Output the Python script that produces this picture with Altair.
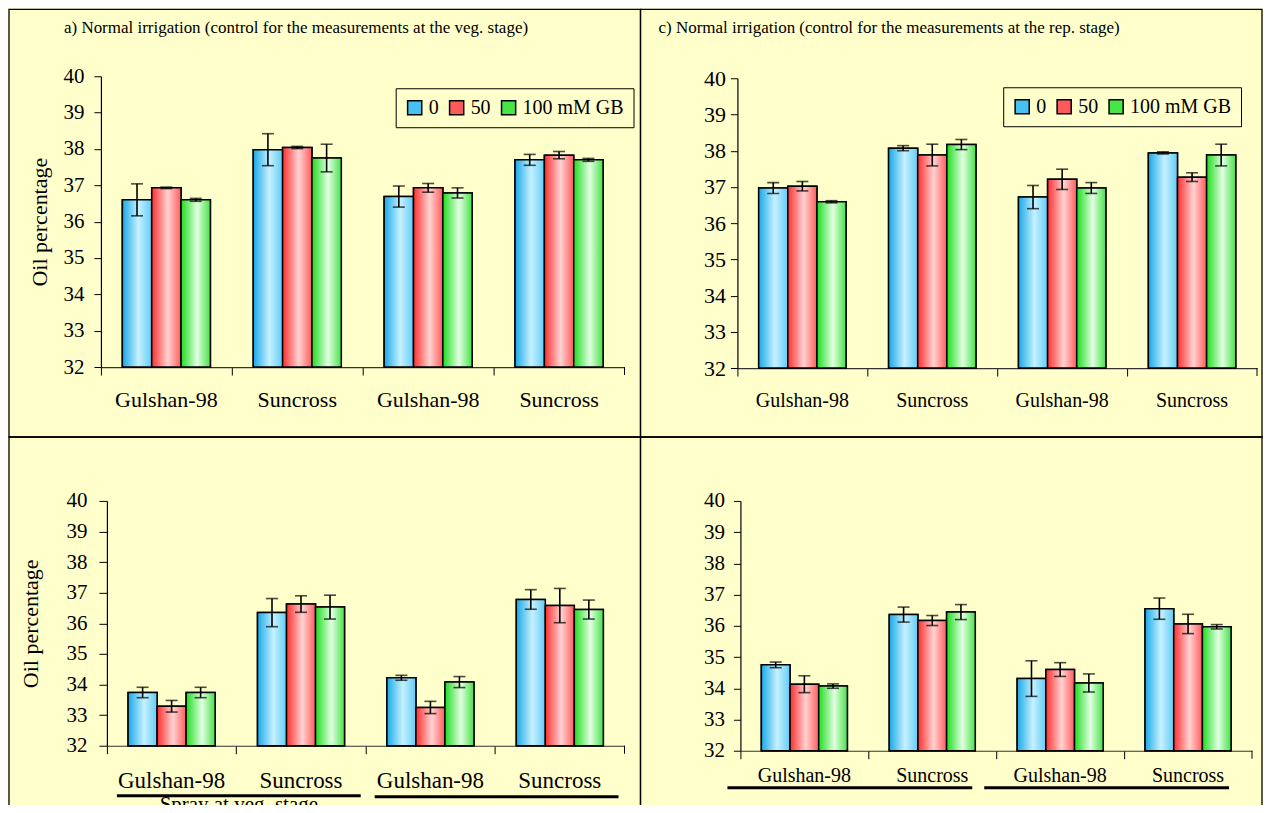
import altair as alt
import pandas as pd

# ---------------- data ----------------
CULTIVARS = ["Gulshan-98", "Suncross", "Gulshan-98", "Suncross"]
DOSES = ["0", "50", "100 mM GB"]

# rows: dose 0, 50, 100 mM GB ; columns: the four cultivar groups
A_MEAN = [[36.60, 37.98, 36.69, 37.70],
          [36.93, 38.04, 36.93, 37.83],
          [36.60, 37.75, 36.79, 37.70]]
A_ERR = [[0.44, 0.44, 0.29, 0.15],
         [0.02, 0.03, 0.12, 0.10],
         [0.04, 0.38, 0.14, 0.04]]

C_MEAN = [[36.97, 38.07, 36.72, 37.94],
          [37.02, 37.88, 37.21, 37.27],
          [36.59, 38.17, 36.97, 37.88]]
C_ERR = [[0.15, 0.07, 0.32, 0.03],
         [0.13, 0.30, 0.28, 0.12],
         [0.03, 0.14, 0.15, 0.30]]

B_MEAN = [[33.74, 36.35, 34.22, 36.78],
          [33.29, 36.63, 33.25, 36.58],
          [33.74, 36.53, 34.08, 36.45]]
B_ERR = [[0.17, 0.46, 0.08, 0.32],
         [0.19, 0.27, 0.20, 0.56],
         [0.17, 0.39, 0.18, 0.31]]

D_MEAN = [[34.75, 36.36, 34.31, 36.55],
          [34.13, 36.17, 34.60, 36.06],
          [34.07, 36.44, 34.17, 35.97]]
D_ERR = [[0.09, 0.24, 0.57, 0.34],
         [0.27, 0.16, 0.22, 0.31],
         [0.07, 0.24, 0.29, 0.07]]

TITLE_A = "a) Normal irrigation (control for the measurements at the veg. stage)"
TITLE_C = "c) Normal  irrigation (control for the  measurements at  the rep. stage)"
Y_TITLE = "Oil percentage"
SPRAY_TEXT = "Spray at veg. stage"
Y_TICKS = [32, 33, 34, 35, 36, 37, 38, 39, 40]

# ---------------- styling ----------------
SERIF = "Liberation Serif"
BG = "#FFFFCC"
LEGEND_COLORS = ["#46C2F2", "#FF5A5A", "#46E646"]
GRADS = [
    [(0.0, "#18A8E8"), (0.55, "#C6F1FF"), (1.0, "#62CCF6")],
    [(0.0, "#FF2E2E"), (0.55, "#FFD2D2"), (1.0, "#FF5C5C")],
    [(0.0, "#1EDC1E"), (0.55, "#E2FFE2"), (1.0, "#46E246")],
]


def make_df(means, errs):
    rows = []
    for di, d in enumerate(DOSES):
        for gi, c in enumerate(CULTIVARS):
            m = means[di][gi]
            e = errs[di][gi]
            rows.append(dict(key=f"{c}|{gi}", dose=d, mean=m, lo=m - e, hi=m + e))
    return pd.DataFrame(rows)


def panel(means, errs, W, H, origin, s):
    """origin = page position of the cell's top-left corner; other page
    positions in s are converted to cell coordinates."""
    ox, oy = origin
    df = make_df(means, errs)
    keys = [f"{c}|{i}" for i, c in enumerate(CULTIVARS)]
    x0 = s.get("x0", 0)
    y0 = s.get("y0", 0)
    x_axis = alt.Axis(title=None, labelExpr="split(datum.value, '|')[0]",
                      bandPosition=0, labelAngle=0,
                      labelFont=SERIF, labelFontSize=s["xfs"], labelColor="black",
                      labelPadding=s["xpad"], labelBaseline="top",
                      tickSize=8, tickColor="black", tickWidth=1,
                      domainColor="#333333", domainWidth=1.2, grid=False)
    x = alt.X("key:N", sort=keys,
              scale=alt.Scale(domain=keys, paddingInner=0, paddingOuter=0, range=[x0, W]),
              axis=x_axis)
    xo = alt.XOffset("dose:N", sort=DOSES,
                     scale=alt.Scale(domain=DOSES, paddingInner=0, paddingOuter=0.73))
    ax_kw = dict(values=Y_TICKS, labelFont=SERIF, labelFontSize=s["yfs"],
                 labelColor="black", labelPadding=s["ypad"], tickSize=s["ytick"],
                 tickColor="black", tickWidth=1, domainColor="black",
                 domainWidth=1.2, grid=False)
    if x0:
        ax_kw.update(offset=-x0)
    if s.get("ytitle_x") is not None:
        ax_kw.update(title=Y_TITLE, titleFont=SERIF, titleFontSize=22,
                     titleFontWeight="normal", titleColor="black",
                     titleX=s["ytitle_x"] - ox - x0, titleY=(y0 + H) / 2)
    else:
        ax_kw.update(title=None)
    yscale = alt.Scale(domain=[32, 40], nice=False, zero=False, range=[H, y0])
    y = alt.Y("mean:Q", scale=yscale, axis=alt.Axis(**ax_kw))
    y2 = alt.Y2Datum(32)

    base = alt.Chart(df)
    if s.get("legend"):
        lx, ly = s["legend"]
        legend = alt.Legend(orient="none", legendX=lx - ox, legendY=ly - oy,
                            direction="horizontal", columns=3, title=None,
                            symbolType="square", symbolSize=200,
                            symbolStrokeColor="black", symbolStrokeWidth=1.5,
                            labelFont=SERIF, labelFontSize=20, labelColor="black",
                            labelOffset=4, columnPadding=7, padding=9,
                            fillColor=BG, strokeColor="black")
    else:
        legend = None
    color = alt.Color("dose:N", sort=DOSES,
                      scale=alt.Scale(domain=DOSES, range=LEGEND_COLORS),
                      legend=legend)

    layers = [base.mark_bar(stroke="black", strokeWidth=1.5).encode(
        x=x, xOffset=xo, y=y, y2=y2, color=color)]

    for d, stops in zip(DOSES, GRADS):
        grad = alt.Gradient(gradient="linear",
                            stops=[alt.GradientStop(offset=o, color=c) for o, c in stops],
                            x1=0, x2=1, y1=0, y2=0)
        layers.append(base.transform_filter(alt.datum.dose == d)
                      .mark_bar(fill=grad, stroke="black", strokeWidth=1.5)
                      .encode(x=x, xOffset=xo, y=y, y2=y2))

    layers.append(base.mark_rule(color="black", strokeWidth=1.6).encode(
        x=x, xOffset=xo, y=alt.Y("lo:Q", scale=yscale, axis=alt.Axis(**ax_kw)), y2="hi:Q"))
    for f in ["lo", "hi"]:
        layers.append(base.mark_tick(color="black", thickness=1.6, size=12,
                                     orient="horizontal").encode(
            x=x, xOffset=xo, y=alt.Y(f + ":Q", scale=yscale, axis=alt.Axis(**ax_kw))))

    deco = alt.Chart(pd.DataFrame({"t": [s.get("title", "")]}))
    # closing tick at the right end of the category axis
    layers.append(deco.mark_rule(color="black", strokeWidth=1).encode(
        x=alt.value(W), y=alt.value(H), y2=alt.value(H + 8)))
    # panel frame (page coordinates -> cell coordinates)
    fx1, fx2, fy1, fy2 = s["frame"]
    fx1, fx2, fy1, fy2 = fx1 - ox, fx2 - ox, fy1 - oy, fy2 - oy
    layers.append(deco.mark_rect(fillOpacity=0, stroke="black", strokeWidth=1.3).encode(
        x=alt.value(fx1), x2=alt.value(fx2), y=alt.value(fy1), y2=alt.value(fy2)))
    if s.get("title"):
        tx, ty = s["title_pos"]
        layers.append(deco.mark_text(align="left", baseline="middle", font=SERIF,
                                     fontSize=17, color="black").encode(
            text="t:N", x=alt.value(tx - ox), y=alt.value(ty - oy)))
    for (ux1, ux2, uy) in s.get("underlines", []):
        layers.append(deco.mark_rule(color="black", strokeWidth=3).encode(
            x=alt.value(ux1 - ox), x2=alt.value(ux2 - ox), y=alt.value(uy - oy)))
    if s.get("spray"):
        sx, sy = s["spray"]
        sp = alt.Chart(pd.DataFrame({"t": [SPRAY_TEXT]}))
        layers.append(sp.mark_text(align="center", baseline="middle", font=SERIF,
                                   fontSize=21, color="black").encode(
            text="t:N", x=alt.value(sx - ox), y=alt.value(sy - oy)))

    return alt.layer(*layers).properties(width=W, height=H)


# grid cells (page pixels): column 1 starts at x=100, column 2 at x=737;
# row 1 starts at y=75, row 2 at y=500.
pa = panel(A_MEAN, A_ERR, 524, 291, (100, 75),
           dict(xfs=22, xpad=14, yfs=21, ypad=10, ytick=7, ytitle_x=51,
                legend=(395, 87), title=TITLE_A, title_pos=(63, 27),
                frame=(8, 640, 8, 436)))
pc = panel(C_MEAN, C_ERR, 520, 292, (737, 75),
           dict(y0=2, xfs=20, xpad=14, yfs=22, ypad=5, ytick=7,
                legend=(1003, 86), title=TITLE_C, title_pos=(658, 27),
                frame=(640, 1262, 8, 436)))
pb = panel(B_MEAN, B_ERR, 524, 245, (100, 500),
           dict(x0=6, xfs=23, xpad=16, yfs=21, ypad=12, ytick=8, ytitle_x=42,
                underlines=[(116, 360, 795), (374, 618, 796)], spray=(238, 804),
                frame=(8, 640, 436, 812)))
pd_ = panel(D_MEAN, D_ERR, 515, 250, (737, 500),
            dict(x0=3, xfs=20, xpad=7, yfs=21, ypad=9, ytick=7,
                 underlines=[(727, 972, 787), (984, 1229, 787)],
                 frame=(640, 1262, 436, 812)))

chart = (alt.concat(pa, pc, pb, pd_, columns=2,
                    spacing={"column": 737 - 624, "row": 500 - 367},
                    bounds="flush", align="all")
         .resolve_scale(color="independent", xOffset="independent")
         .resolve_legend(color="independent")
         .properties(background=BG,
                     padding={"left": 0, "top": 0, "right": 0, "bottom": -10})
         .configure(font=SERIF)
         .configure_view(stroke="transparent", strokeWidth=0))

chart.save("out.html", embed_options={"renderer": "svg", "actions": False})
